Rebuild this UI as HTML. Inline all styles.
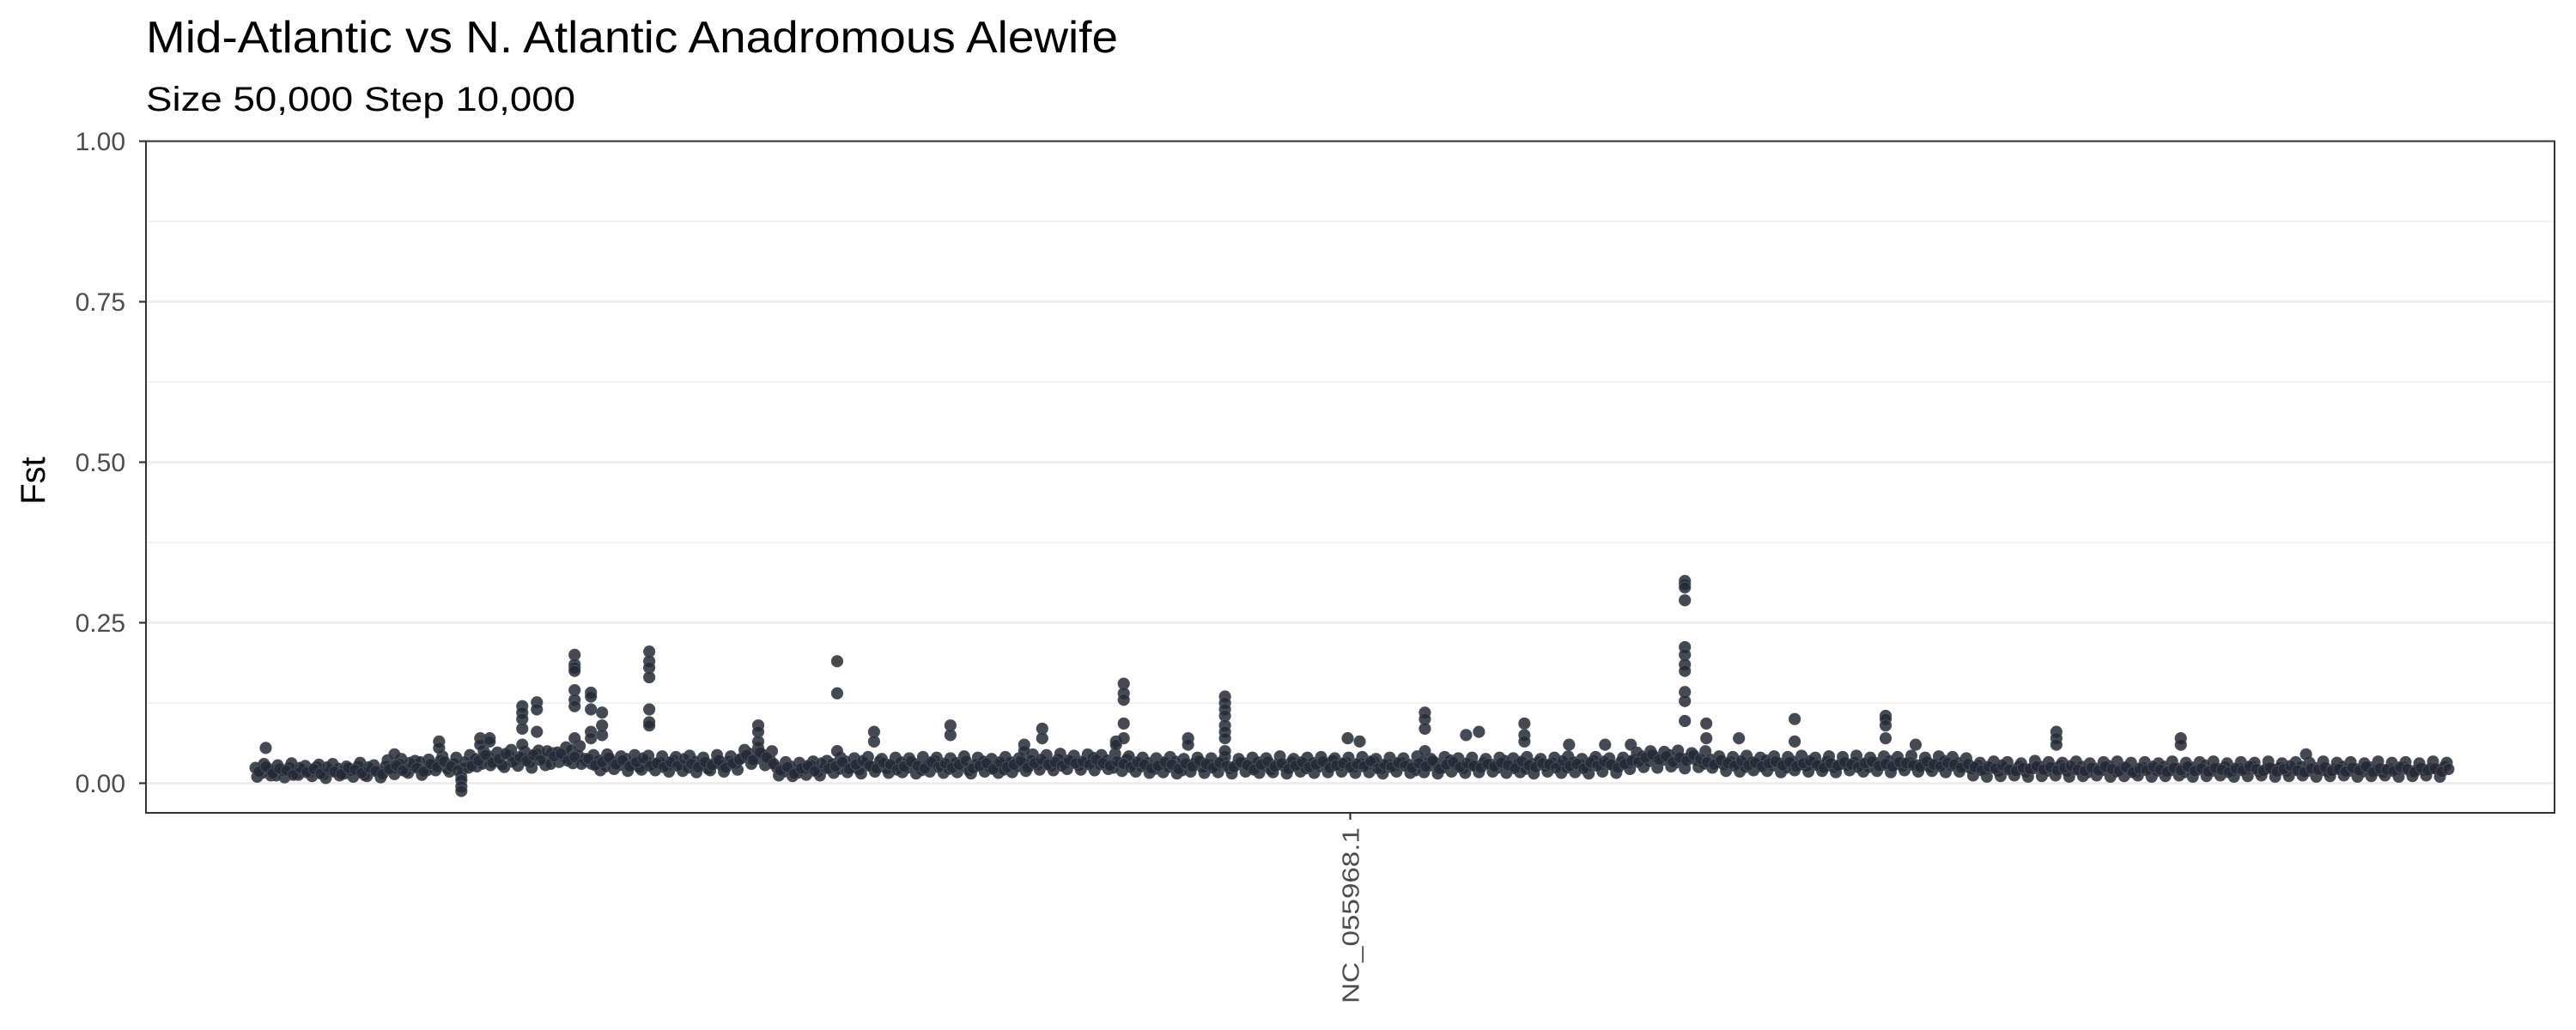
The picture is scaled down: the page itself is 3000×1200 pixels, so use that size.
<!DOCTYPE html>
<html><head><meta charset="utf-8"><style>
html,body{margin:0;padding:0;background:#fff;}
svg{display:block;font-family:"Liberation Sans",Arial,sans-serif;}
</style></head><body>
<svg id="chart" width="3000" height="1200" viewBox="0 0 3000 1200" xmlns="http://www.w3.org/2000/svg">
<rect x="0" y="0" width="3000" height="1200" fill="#fff"/>
<text x="170" y="61" font-size="52" fill="#000" textLength="1132" lengthAdjust="spacingAndGlyphs">Mid-Atlantic vs N. Atlantic Anadromous Alewife</text>
<text x="170" y="129" font-size="40" fill="#000" textLength="500" lengthAdjust="spacingAndGlyphs">Size 50,000 Step 10,000</text>
<g id="grid"></g>
<g id="points"></g>
<rect x="170" y="164.5" width="2805" height="782.5" fill="none" stroke="#333" stroke-width="2"/>
<g id="yaxis"></g>
<g id="xaxis"></g>
<text transform="translate(52,560) rotate(-90)" text-anchor="middle" font-size="40" fill="#000">Fst</text>
</svg>
<script>
const yTicks = [0, 0.25, 0.5, 0.75, 1.0];
const yTickLabels = ["0.00", "0.25", "0.50", "0.75", "1.00"];
const yMinorTicks = [0.125, 0.375, 0.625, 0.875];
const xCategories = ["NC_055968.1"];
const windowStepMb = 0.16;
const baselineFst = [
24,16,22,12,19,25,14,21,17,26,13,20,23,15,19,27,12,22,18,27,
22,30,18,26,33,20,28,36,22,31,10,24,38,30,42,34,28,44,36,40,
32,46,38,30,48,40,52,44,38,30,36,26,34,28,38,30,24,35,29,33,
26,36,28,24,34,30,22,32,27,35,30,40,46,38,44,36,24,18,26,16,
22,28,17,24,30,22,34,26,20,31,25,35,22,28,33,24,30,20,29,36,
26,22,32,27,19,30,34,24,28,21,33,26,30,36,28,34,26,38,30,35,
27,33,40,29,36,24,31,38,28,26,32,22,30,25,34,20,28,33,24,30,
26,35,22,29,31,24,33,27,20,30,25,34,28,23,32,26,30,36,27,33,
24,31,28,35,22,30,26,33,29,20,34,27,31,24,36,28,22,30,26,33,
29,24,35,27,31,22,30,34,26,32,28,24,33,30,25,36,28,31,26,34,
30,38,42,34,40,36,44,32,38,41,35,30,37,33,28,34,30,25,33,29,
36,27,31,24,34,29,26,33,28,35,24,30,27,33,29,25,32,28,35,30,
26,33,28,31,24,30,35,27,32,26,22,28,20,25,18,24,21,27,17,23,
26,19,24,28,18,22,26,17,23,20,27,18,24,21,16,25,22,19,26,20,
23,17,25,21,28,19,22,26,18,24,20,27,17,23,21,25,18,22,26,19,
24,20,17,23,26,19,22,18,25,21,16,23,20,26,18,22,19,24,21,27
];
const baselineFstB = [
18,26,15,23,20,13,24,17,22,15,25,18,14,24,21,16,25,19,14,22,
28,20,32,24,18,30,25,34,26,20,33,27,35,44,32,38,46,33,41,35,
44,36,50,42,46,35,41,30,38,28,33,40,29,36,26,33,39,27,31,25,
33,27,38,30,25,33,28,36,24,31,37,44,36,48,40,30,20,25,15,23,
27,19,31,23,26,33,22,29,35,27,23,32,29,21,26,34,27,23,33,25,
31,24,29,35,23,27,31,22,33,25,29,35,24,31,37,29,33,27,36,31,
34,29,37,31,27,34,30,25,33,29,23,27,33,29,22,31,26,35,30,24,
32,27,25,33,28,21,29,34,26,31,22,27,33,25,29,34,24,28,31,25,
30,26,34,23,29,25,32,27,24,31,26,35,22,29,33,25,31,27,24,30,
26,32,28,23,34,28,25,31,29,24,35,27,30,23,32,27,34,29,24,30,
35,33,40,45,37,42,33,40,35,44,38,33,29,36,31,27,35,28,32,26,
31,34,28,33,26,31,35,28,24,31,27,33,29,25,31,34,27,30,26,33,
31,28,25,34,29,26,32,29,24,30,25,20,26,23,28,21,19,24,22,26,
21,25,20,24,27,21,19,24,20,26,22,19,25,17,23,20,26,21,18,24,
20,26,19,23,18,24,21,17,23,20,26,22,19,24,18,22,27,20,17,23,
21,25,19,22,18,24,20,26,17,23,21,19,25,22,17,24,20,23,18,22
];
const baselineFstC = [
10,30,12,28,9,31,13,27,11,29,8,30,12,26,10,32,11,28,9,36,
14,38,16,35,13,37,20,42,18,40,22,44,26,50,28,48,25,52,27,49,
24,51,28,47,33,56,31,58,35,44,20,45,22,42,19,44,21,43,20,42,
18,41,19,43,17,40,20,44,18,42,21,52,30,55,28,50,12,33,11,32,
13,34,12,35,16,40,17,39,15,41,18,38,16,40,17,39,15,41,18,40,
16,39,17,42,15,40,18,38,16,41,17,39,19,45,21,44,20,46,22,43,
21,45,20,44,22,46,19,42,18,40,16,39,17,41,15,38,18,40,16,39,
17,41,15,38,18,40,16,39,17,42,15,38,18,40,16,41,17,39,18,40,
16,41,17,38,15,40,18,39,16,42,17,38,15,41,18,39,16,40,17,38,
18,40,16,39,17,41,15,38,18,40,16,42,17,38,15,41,18,39,16,40,
22,48,25,50,24,49,26,51,23,47,25,50,24,42,19,41,18,43,20,40,
19,42,17,41,20,43,18,40,19,42,17,41,20,43,18,40,19,42,17,41,
20,43,18,40,19,42,17,41,18,39,12,32,10,34,11,33,12,31,10,35,
11,33,12,32,10,34,11,31,12,33,10,34,11,32,12,33,10,31,11,34,
12,32,10,33,11,34,12,31,10,33,11,32,12,34,10,31,11,33,12,32,
10,34,11,32,12,33,10,31,11,34,12,32,10,33,11,31,12,34,10,32
];
const outlierPosMb = [
0.24,3.24,4.28,4.28,4.8,4.8,4.8,5.24,5.24,5.46,5.46,
6.22,6.22,6.22,6.22,6.22,6.56,6.56,6.56,
7.44,7.44,7.44,7.44,7.44,7.44,7.44,7.44,
7.82,7.82,7.82,7.82,7.82,8.08,8.08,8.08,
9.18,9.18,9.18,9.18,9.18,9.18,9.18,
11.72,11.72,11.72,13.56,13.56,13.56,14.42,14.42,16.2,16.2,17.92,17.92,18.34,18.34,
20.06,20.06,20.24,20.24,20.24,20.24,20.24,21.74,21.74,
22.6,22.6,22.6,22.6,22.6,22.6,22.6,22.6,
25.46,25.74,27.26,27.26,27.26,27.26,28.22,28.52,29.58,29.58,29.58,
30.62,31.46,32.06,
33.32,33.32,33.32,33.32,33.32,33.32,33.32,33.32,33.32,33.32,33.32,
33.82,33.82,34.58,35.88,35.88,38.0,38.0,38.0,38.0,38.7,
41.98,41.98,41.98,44.88,44.88,47.8
];
const outlierFst = [
0.055,0.045,0.065,0.055,0.005,-0.005,-0.012,0.07,0.06,0.07,0.065,
0.12,0.11,0.10,0.085,0.06,0.126,0.115,0.08,
0.2,0.185,0.18,0.175,0.145,0.13,0.12,0.07,
0.141,0.135,0.115,0.08,0.07,0.11,0.09,0.075,
0.205,0.19,0.18,0.165,0.115,0.095,0.09,
0.09,0.08,0.065,0.19,0.14,0.05,0.08,0.065,0.09,0.075,0.06,0.05,0.085,0.07,
0.065,0.06,0.155,0.14,0.13,0.093,0.07,0.07,0.06,
0.135,0.125,0.115,0.105,0.09,0.08,0.07,0.05,
0.07,0.065,0.11,0.1,0.085,0.05,0.075,0.08,0.093,0.075,0.065,
0.06,0.06,0.06,
0.315,0.31,0.305,0.285,0.212,0.2,0.185,0.175,0.142,0.128,0.097,
0.093,0.07,0.07,0.1,0.065,0.105,0.1,0.09,0.07,0.06,
0.08,0.07,0.06,0.07,0.06,0.045
];

const NS = "http://www.w3.org/2000/svg";
const panel = {left:170, right:2975, top:164.5, bottom:947};
const yZero = 912.5, yPerUnit = 748;
function yScale(v){ return yZero - v * yPerUnit; }
const xMin = 0, xMax = (baselineFst.length - 1) * windowStepMb;
const xPad = (panel.right - panel.left) / 1.1 * 0.05;
function xScale(mb){ return panel.left + xPad + (mb - xMin) / (xMax - xMin) * ((panel.right - panel.left) - 2 * xPad); }
function mk(tag, attrs, parent){ const e = document.createElementNS(NS, tag); for (const k in attrs) e.setAttribute(k, attrs[k]); parent.appendChild(e); return e; }

const grid = document.getElementById('grid');
yMinorTicks.forEach(v => {
  const l = mk('line', {x1:panel.left, x2:panel.right, y1:yScale(v), y2:yScale(v), stroke:'#ebebeb', 'stroke-width':1.3}, grid);
  
  
});
yTicks.forEach(v => {
  const l = mk('line', {x1:panel.left, x2:panel.right, y1:yScale(v), y2:yScale(v), stroke:'#ebebeb', 'stroke-width':2.6}, grid);
  
  
});

const pts = document.getElementById('points');
const R = 6.5;
baselineFstC.forEach((v, i) => {
  const c = mk('circle', {cx:xScale((i + 0.25) * windowStepMb), cy:yScale(v / 1000), r:R, fill:'#232a36', 'fill-opacity':0.85, stroke:'#4a4f58', 'stroke-width':1}, pts);
  
  
});
baselineFst.forEach((v, i) => {
  const c = mk('circle', {cx:xScale(i * windowStepMb), cy:yScale(v / 1000), r:R, fill:'#232a36', 'fill-opacity':0.85, stroke:'#4a4f58', 'stroke-width':1}, pts);
  
  
});
baselineFstB.forEach((v, i) => {
  const c = mk('circle', {cx:xScale((i + 0.5) * windowStepMb), cy:yScale(v / 1000), r:R, fill:'#232a36', 'fill-opacity':0.85, stroke:'#4a4f58', 'stroke-width':1}, pts);
  
  
});
outlierFst.forEach((v, i) => {
  const c = mk('circle', {cx:xScale(outlierPosMb[i]), cy:yScale(v), r:R, fill:'#232a36', 'fill-opacity':0.85, stroke:'#4a4f58', 'stroke-width':1.2}, pts);
  
  
});

const ya = document.getElementById('yaxis');
yTicks.forEach((v, i) => {
  const t = mk('line', {x1:panel.left - 8, x2:panel.left, y1:yScale(v), y2:yScale(v), stroke:'#333', 'stroke-width':2.2}, ya);
  
  
  const lb = mk('text', {x:146, y:yScale(v) + 10.5, 'text-anchor':'end', 'font-size':30, fill:'#4d4d4d'}, ya);
  lb.textContent = yTickLabels[i];
  
  
});

const xa = document.getElementById('xaxis');
xCategories.forEach(cat => {
  const cx = xScale((xMin + xMax) / 2);
  const t = mk('line', {x1:cx, x2:cx, y1:panel.bottom, y2:panel.bottom + 8, stroke:'#333', 'stroke-width':2.2}, xa);
  
  
  const lb = mk('text', {transform:'translate(' + (cx + 10) + ',964) rotate(-90)', 'text-anchor':'end', 'font-size':28, fill:'#4d4d4d', textLength:205, lengthAdjust:'spacingAndGlyphs'}, xa);
  lb.textContent = cat;
  
  
});
</script>
</body></html>
